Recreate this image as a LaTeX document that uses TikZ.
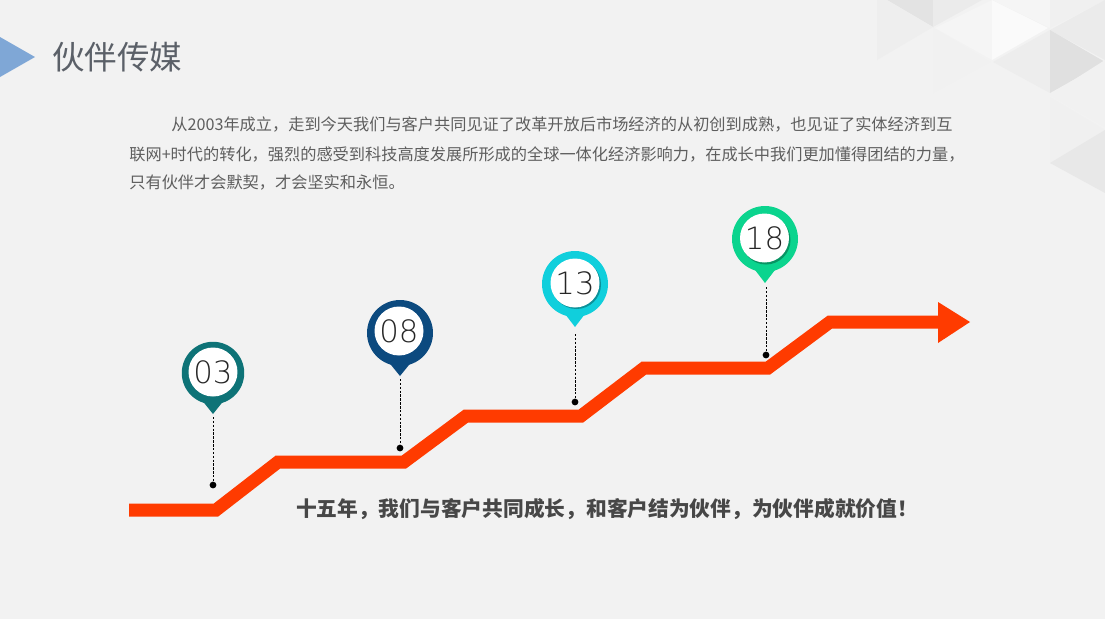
\documentclass[tikz,border=0pt]{standalone}
\usepackage{fontspec}
\usepackage{tikz}
\setmainfont{Noto Sans CJK SC}
\newfontfamily\numfont{DejaVu Sans ExtraLight}
\definecolor{pagebg}{HTML}{F2F2F2}
\definecolor{stepline}{HTML}{FF3B00}
\definecolor{bodygray}{HTML}{5E5E5E}
\definecolor{titlegray}{HTML}{5B6068}
\definecolor{arrowblue}{HTML}{7FA7D6}
\definecolor{teal03}{HTML}{0E7377}
\definecolor{navy08}{HTML}{0C4A7F}
\definecolor{cyan13}{HTML}{10CFDC}
\definecolor{green18}{HTML}{0BD48E}
\tikzset{
  bodyline/.style={anchor=west,inner sep=0pt,text=bodygray,font=\fontsize{9.22}{11}\selectfont},
  pinhead/.style={circle,inner sep=0pt,minimum size=1.32cm},
  pinface/.style={circle,fill=white,inner sep=0pt,minimum size=0.98cm,text=black!85,font=\numfont\fontsize{17.5}{20}\selectfont},
  leader/.style={dash pattern=on 1.4pt off 0.8pt,line width=0.45pt,black},
  pindot/.style={circle,fill=black,inner sep=0pt,minimum size=0.135cm},
}
\begin{document}
\begin{tikzpicture}[x=0.02cm,y=-0.02cm]
  \useasboundingbox (0,0) rectangle (1105,619);
  \fill[pagebg] (0,0) rectangle (1105,619);

  % corner triangles
  \fill[black!11] (887,0) -- (933,0) -- (933,27) -- cycle;
  \fill[black!8] (933,0) -- (982,0) -- (933,27) -- cycle;
  \fill[black!6.5] (877,0) -- (877,60) -- (933,27) -- (887,0) -- cycle;
  \fill[black!5.5] (933,28) -- (933,93) -- (990,62) -- cycle;
  \fill[black!4] (935,28) -- (992,0) -- (992,60) -- cycle;
  \fill[black!2] (992,0) -- (992,60) -- (1048,28) -- cycle;
  \fill[black!4] (992,0) -- (1050,0) -- (1050,28) -- cycle;
  \fill[black!6] (1050,0) -- (1050,28) -- (1105,0) -- cycle;
  \fill[black!8] (1050,30) -- (1105,0) -- (1105,60) -- cycle;
  \fill[black!7] (1050,30) -- (1050,93) -- (993,62) -- cycle;
  \fill[black!12] (1050,30) -- (1050,93) -- (1105,62) -- cycle;
  \fill[black!5.5] (1050,95) -- (1105,60) -- (1105,127) -- cycle;
  \fill[black!6] (1050,97) -- (1050,163) -- (1105,130) -- cycle;
  \fill[black!9] (1050,163) -- (1105,130) -- (1105,193) -- cycle;

  % title
  \fill[arrowblue] (0,37) -- (35,57) -- (0,77) -- cycle;
  \node[anchor=west,inner sep=0pt,text=titlegray,font=\fontsize{18.5}{22}\selectfont] (title) at (52,57) {伙伴传媒};

  % text block
  \node[bodyline] (line1) at (171,124) {从2003年成立^^^^ff0c走到今天我们与客户共同见证了改革开放后市场经济的从初创到成熟^^^^ff0c也见证了实体经济到互};
  \node[bodyline] (line2) at (129,154) {联网+时代的转化^^^^ff0c强烈的感受到科技高度发展所形成的全球一体化经济影响力^^^^ff0c在成长中我们更加懂得团结的力量^^^^ff0c};
  \node[bodyline] (line3) at (129,183) {只有伙伴才会默契^^^^ff0c才会坚实和永恒。};

  % steps
  \coordinate (s0) at (129,510);
  \coordinate (s1) at (216,510);
  \coordinate (s2) at (278,462);
  \coordinate (s3) at (404,462);
  \coordinate (s4) at (466,416);
  \coordinate (s5) at (581,416);
  \coordinate (s6) at (644,368);
  \coordinate (s7) at (768,368);
  \coordinate (s8) at (830,322);
  \coordinate (s9) at (940,322);
  \draw[stepline,line width=0.26cm,miter limit=4] (s0) -- (s1) -- (s2) -- (s3) -- (s4) -- (s5) -- (s6) -- (s7) -- (s8) -- (s9);
  \fill[stepline] (938,302) -- (970,322) -- (938,343) -- cycle;

  % 03
  \fill[teal03] (201,399) -- (213,414) -- (225,399) -- cycle;
  \node[pinhead,fill=teal03,minimum size=1.25cm] (head03) at (213,373) {};
  \node[pinface,minimum size=0.98cm] (face03) at (213,372) {03};
  \node[pindot] (dot03) at (213,485) {};
  \coordinate (tip03) at (213,417);
  \draw[leader] (tip03) -- (dot03);

  % 08
  \fill[navy08] (387,360) -- (400,376) -- (413,360) -- cycle;
  \node[pinhead,fill=navy08] (head08) at (400,333) {};
  \node[pinface] (face08) at (399,331) {08};
  \node[pindot] (dot08) at (400,448) {};
  \coordinate (tip08) at (400,379);
  \draw[leader] (tip08) -- (dot08);

  % 13
  \fill[cyan13] (562,310) -- (575,327) -- (588,310) -- cycle;
  \node[pinhead,fill=cyan13] (head13) at (575,284) {};
  \fill[cyan13!70!black] (576.5,284.5) circle (24.5);
  \node[pinface] (face13) at (575,283) {13};
  \node[pindot] (dot13) at (575,402) {};
  \coordinate (tip13) at (575,334);
  \draw[leader] (tip13) -- (dot13);

  % 18
  \fill[green18] (752,266) -- (765,283) -- (778,266) -- cycle;
  \node[pinhead,fill=green18] (head18) at (765,239) {};
  \fill[green18!70!black] (766,240) circle (24.5);
  \node[pinface] (face18) at (764.5,238) {18};
  \node[pindot] (dot18) at (766,355) {};
  \coordinate (tip18) at (766,287);
  \draw[leader] (tip18) -- (dot18);

  \node[inner sep=0pt,text=black!72,font=\fontsize{11.8}{14}\selectfont\bfseries] (slogan) at (607,509) {十五年^^^^ff0c我们与客户共同成长^^^^ff0c和客户结为伙伴^^^^ff0c为伙伴成就价值^^^^ff01};
\end{tikzpicture}
\end{document}
